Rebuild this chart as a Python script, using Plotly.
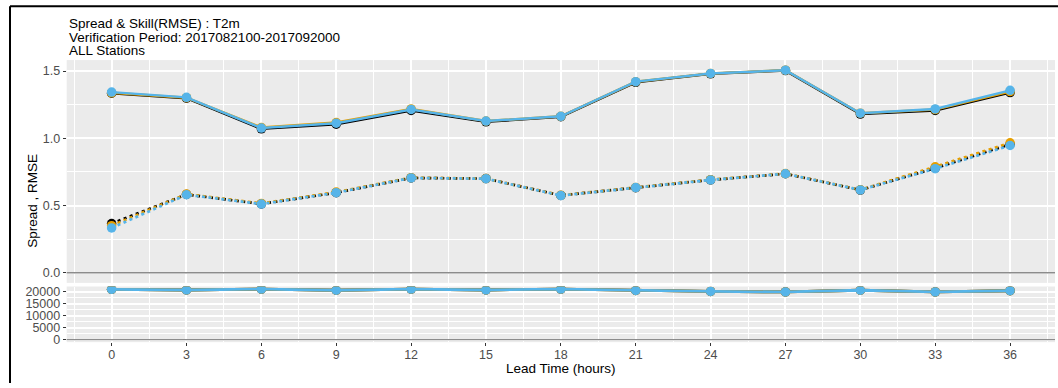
import plotly.graph_objects as go

# Lead times (hours)
lead = [0, 3, 6, 9, 12, 15, 18, 21, 24, 27, 30, 33, 36]

# RMSE (solid) per experiment
rmse_black = [1.335, 1.298, 1.070, 1.105, 1.207, 1.122, 1.160, 1.416, 1.479, 1.503, 1.180, 1.207, 1.340]
rmse_orange = [1.338, 1.302, 1.080, 1.117, 1.218, 1.128, 1.163, 1.420, 1.482, 1.506, 1.186, 1.213, 1.347]
rmse_blue = [1.343, 1.304, 1.076, 1.112, 1.214, 1.128, 1.163, 1.421, 1.482, 1.506, 1.186, 1.218, 1.356]

# Ensemble spread (dotted) per experiment
spread_black = [0.366, 0.582, 0.512, 0.595, 0.705, 0.700, 0.575, 0.632, 0.690, 0.736, 0.615, 0.778, 0.955]
spread_orange = [0.350, 0.585, 0.515, 0.600, 0.707, 0.700, 0.576, 0.634, 0.692, 0.737, 0.617, 0.788, 0.966]
spread_blue = [0.333, 0.580, 0.511, 0.595, 0.705, 0.699, 0.574, 0.633, 0.690, 0.736, 0.616, 0.774, 0.946]

# Number of verified cases
cases = [21000, 20700, 21100, 20600, 21100, 20700, 21100, 20500, 20100, 19900, 20600, 19900, 20400]

# Axis ticks
top_ticks = [0, 0.5, 1.0, 1.5]
top_tick_text = ["0.0", "0.5", "1.0", "1.5"]
count_ticks = [0, 5000, 10000, 15000, 20000]
count_tick_text = ["0", "5000", "10000", "15000", "20000"]

colors = ["#000000", "#E69F00", "#56B4E9"]
rmse_sets = [rmse_black, rmse_orange, rmse_blue]
spread_sets = [spread_black, spread_orange, spread_blue]

W, H = 1058, 388
FONT = "Liberation Sans, Arial, sans-serif"


def px(x):
    return x / W


def py(y):
    return 1 - y / H


def expand(lo, hi, f=0.05):
    d = (hi - lo) * f
    return [lo - d, hi + d]


fig = go.Figure()

for c, r, s in zip(colors, rmse_sets, spread_sets):
    fig.add_trace(go.Scatter(x=lead, y=r, mode="lines+markers",
                             line=dict(color=c, width=2.5),
                             marker=dict(color=c, size=9.5),
                             xaxis="x", yaxis="y", showlegend=False))
    fig.add_trace(go.Scatter(x=lead, y=s, mode="lines+markers",
                             line=dict(color=c, width=2.7, dash="3px,3.5px"),
                             marker=dict(color=c, size=9.5),
                             xaxis="x", yaxis="y", showlegend=False))

for c in colors:
    fig.add_trace(go.Scatter(x=lead, y=cases, mode="lines+markers",
                             line=dict(color=c, width=2.8),
                             marker=dict(color=c, size=9.5),
                             xaxis="x2", yaxis="y2", showlegend=False))

xr = expand(min(lead), max(lead))
top_all = rmse_black + rmse_orange + rmse_blue + spread_black + spread_orange + spread_blue + [0]
yr = expand(min(top_all), max(top_all))
yr2 = expand(0, max(cases))

xdom = [px(66.7), px(1055)]
grid_major = dict(showgrid=True, gridcolor="white", gridwidth=1.6)
minor_x = dict(showgrid=True, gridcolor="white", gridwidth=0.8, tick0=1.5, dtick=3)
tick_style = dict(ticks="outside", ticklen=3, tickwidth=1, tickcolor="#333333",
                  tickfont=dict(size=12.5, color="#4D4D4D"))

fig.update_layout(
    width=W, height=H,
    margin=dict(l=0, r=0, t=0, b=0),
    paper_bgcolor="white",
    plot_bgcolor="#EBEBEB",
    font=dict(family=FONT, size=12, color="#4D4D4D"),
    xaxis=dict(domain=xdom, range=xr, anchor="y", tickvals=lead, showticklabels=False,
               ticks="", zeroline=False, minor=minor_x, **grid_major),
    yaxis=dict(domain=[py(286.3), py(60)], range=yr, anchor="x",
               tickvals=top_ticks, ticktext=top_tick_text,
               zeroline=False,
               minor=dict(showgrid=True, gridcolor="white", gridwidth=0.8, tick0=0.25, dtick=0.5),
               **tick_style, **grid_major),
    xaxis2=dict(domain=xdom, range=xr, anchor="y2", tickvals=lead,
                zeroline=False, ticklabelstandoff=-2,
                minor=minor_x, **tick_style, **grid_major),
    yaxis2=dict(domain=[py(346.5), py(290)], range=yr2, anchor="x2",
                tickvals=count_ticks, ticktext=count_tick_text,
                zeroline=False,
                minor=dict(showgrid=True, gridcolor="white", gridwidth=0.8, tick0=2500, dtick=5000),
                **tick_style, **grid_major),
)

# zero reference lines
fig.add_shape(type="line", xref="x domain", yref="y", x0=0, x1=1, y0=0, y1=0,
              line=dict(color="#8C8C8C", width=1.3), layer="above")
fig.add_shape(type="line", xref="x2 domain", yref="y2", x0=0, x1=1, y0=0, y1=0,
              line=dict(color="#8C8C8C", width=1.3), layer="above")

# frame
fig.add_shape(type="line", xref="paper", yref="paper", x0=px(10), x1=1, y0=py(5.3), y1=py(5.3),
              line=dict(color="black", width=2))
fig.add_shape(type="line", xref="paper", yref="paper", x0=px(10), x1=px(10), y0=py(5.3), y1=0,
              line=dict(color="black", width=2))

# title lines
titles = ["Spread & Skill(RMSE) : T2m",
          "Verification Period: 2017082100-2017092000",
          "ALL Stations"]
for i, t in enumerate(titles):
    fig.add_annotation(text=t, xref="paper", yref="paper", x=px(66.5), y=py(23.3 + 13.4 * i),
                       xanchor="left", yanchor="middle", showarrow=False,
                       font=dict(family=FONT, size=13.5, color="black"))

# axis titles
fig.add_annotation(text="Lead Time (hours)", xref="paper", yref="paper", x=px(561), y=py(373),
                   xanchor="center", yanchor="middle", showarrow=False,
                   font=dict(family=FONT, size=13.5, color="black"))
fig.add_annotation(text="Spread , RMSE", xref="paper", yref="paper", x=px(33), y=py(203),
                   xanchor="center", yanchor="middle", textangle=-90, showarrow=False,
                   font=dict(family=FONT, size=13.5, color="black"))

fig.write_html("out.html")
